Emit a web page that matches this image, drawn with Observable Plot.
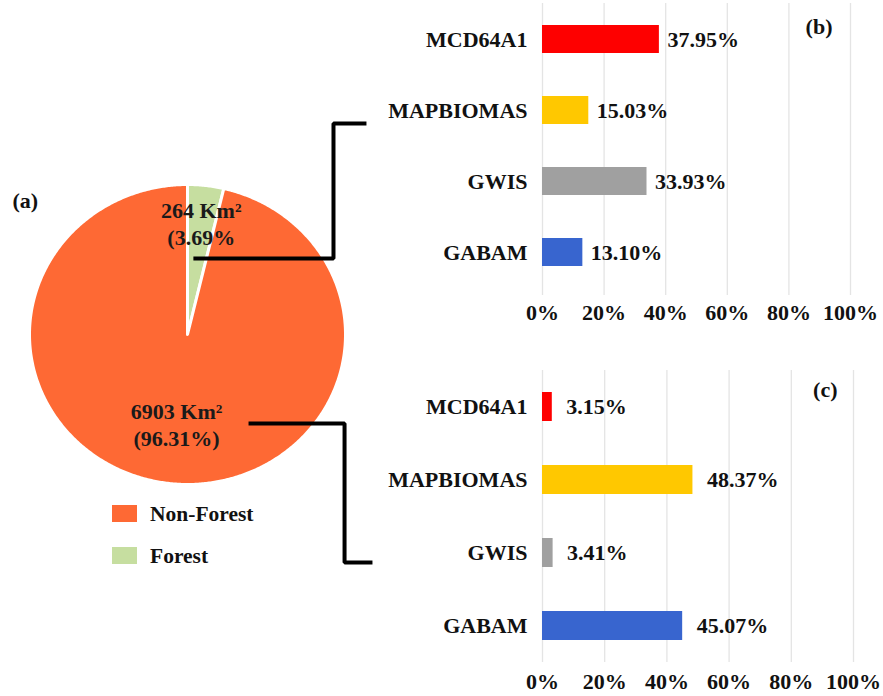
<!DOCTYPE html>
<html>
<head>
<meta charset="utf-8">
<script src="https://cdn.jsdelivr.net/npm/d3@7"></script>
<script src="https://cdn.jsdelivr.net/npm/@observablehq/plot@0.6"></script>
<style>
  html, body { margin: 0; padding: 0; background: #fff; }
  #wrap { position: relative; width: 883px; height: 696px; overflow: hidden; background: #fff;
          font-family: "Liberation Serif", "Times New Roman", serif; font-weight: bold; color: #111; }
  .panel { position: absolute; }
  .panel svg { display: block; overflow: visible; }
  .sw { position: absolute; width: 25px; height: 17px; }
  .lg { position: absolute; font-size: 21.5px; line-height: 22px; white-space: nowrap; }
</style>
</head>
<body>
<div id="wrap"></div>
<script>
// ---------- data ----------
const sliceNames = ["Forest", "Non-Forest"];
const sliceAreas = [264, 6903];            // Km²
const slicePercents = [3.69, 96.31];       // %
const sliceCloseParen = ["", ")"];         // as printed in the original
const legendOrder = ["Non-Forest", "Forest"];

const products = ["MCD64A1", "MAPBIOMAS", "GWIS", "GABAM"];
const forestShare = [37.95, 15.03, 33.93, 13.10];     // panel (b)
const nonForestShare = [3.15, 48.37, 3.41, 45.07];    // panel (c)
const xTicks = [0, 20, 40, 60, 80, 100];

// ---------- styles ----------
const sliceColors = {"Forest": "#c6dea0", "Non-Forest": "#fe6934"};
const productColors = {"MCD64A1": "#fe0000", "MAPBIOMAS": "#ffc800", "GWIS": "#a0a0a0", "GABAM": "#3865cf"};
const FONT = '"Liberation Serif", "Times New Roman", serif';
const FS = 22;

const wrap = document.getElementById("wrap");
function place(node, left, top) {
  const d = document.createElement("div");
  d.className = "panel";
  d.style.left = left + "px";
  d.style.top = top + "px";
  d.appendChild(node);
  wrap.appendChild(d);
  return d;
}

// ---------- pie (a) ----------
const slices = sliceNames.map((n, i) => ({name: n, area: sliceAreas[i], pct: slicePercents[i], close: sliceCloseParen[i]}));
const arcs = d3.pie().sort(null).value(d => d.pct)(slices);
const step = Math.PI / 360;
const sliceShapes = arcs.map(a => {
  const pts = [{x: 0, y: 0}];
  const n = Math.max(2, Math.ceil((a.endAngle - a.startAngle) / step));
  for (let k = 0; k <= n; k++) {
    const t = a.startAngle + (a.endAngle - a.startAngle) * k / n;
    pts.push({x: Math.sin(t), y: Math.cos(t)});
  }
  return {name: a.data.name, pts};
});
const sliceLabels = arcs.map(a => {
  const m = (a.startAngle + a.endAngle) / 2;
  const r = a.data.pct < 10 ? 0.75 : 0.6;
  return {x: r * Math.sin(m), y: r * Math.cos(m),
          text: `${a.data.area} Km²\n(${a.data.pct.toFixed(2)}%${a.data.close}`};
});
// leader lines from the slices to the bar panels (pie units)
const connectors = [
  {id: "forest", x: 0.05, y: 0.507}, {id: "forest", x: 0.924, y: 0.507},
  {id: "forest", x: 0.924, y: 1.407}, {id: "forest", x: 1.12, y: 1.407},
  {id: "nonforest", x: 0.399, y: -0.593}, {id: "nonforest", x: 0.994, y: -0.593},
  {id: "nonforest", x: 0.994, y: -1.52}, {id: "nonforest", x: 1.158, y: -1.52}
];

const piePlot = Plot.plot({
  width: 380, height: 696, margin: 0,
  style: {fontFamily: FONT, fontSize: FS + "px", fontWeight: "bold", color: "#111", background: "transparent", overflow: "visible"},
  x: {domain: [-1, 1], range: [29, 345], axis: null},
  y: {domain: [-1, 1], range: [484, 184], axis: null},
  marks: [
    ...sliceShapes.map(s => Plot.line(s.pts, {x: "x", y: "y", fill: sliceColors[s.name], stroke: "#fff", strokeWidth: 3, curve: "linear-closed"})),
    Plot.text(sliceLabels, {x: "x", y: "y", text: "text", fontSize: FS, fontWeight: "bold", lineHeight: 1.22, fill: "#1a1a1a"}),
    Plot.line(connectors, {x: "x", y: "y", z: "id", stroke: "#000", strokeWidth: 4, strokeLinecap: "square", strokeLinejoin: "miter"}),
    Plot.text(["(a)"], {frameAnchor: "top-left", dx: 12, dy: 192, fontSize: FS, fontWeight: "bold", fill: "#111"})
  ]
});
place(piePlot, 0, 0);

// legend
legendOrder.forEach((name, i) => {
  const top = 505 + i * 42;
  const sw = document.createElement("div");
  sw.className = "sw";
  sw.style.left = "112px"; sw.style.top = top + "px";
  sw.style.background = sliceColors[name];
  wrap.appendChild(sw);
  const lb = document.createElement("div");
  lb.className = "lg";
  lb.style.left = "150px"; lb.style.top = (top - 2) + "px";
  lb.textContent = name;
  wrap.appendChild(lb);
});

// ---------- bar panels (b) and (c) ----------
function barPanel(values, o) {
  const rows = products.map((p, i) => ({product: p, value: values[i], color: productColors[p]}));
  return Plot.plot({
    width: 503, height: o.height,
    marginLeft: 162, marginRight: o.marginRight, marginTop: o.top, marginBottom: o.height - o.bottom,
    style: {fontFamily: FONT, fontSize: FS + "px", fontWeight: "bold", color: "#111", background: "transparent", overflow: "visible"},
    color: {type: "identity"},
    x: {domain: [0, 100], ticks: xTicks, tickFormat: d => d + "%", tickSize: 0, tickPadding: o.xPad, label: null},
    y: {domain: products, range: o.yRange, paddingInner: 0.6, paddingOuter: 0.3, tickSize: 0, tickPadding: 15, label: null},
    marks: [
      Plot.gridX(xTicks, {stroke: "#e4e4e4", strokeOpacity: 1, strokeWidth: 1.3}),
      Plot.barX(rows, {y: "product", x: "value", fill: "color"}),
      Plot.text(rows, {y: "product", x: "value", text: d => d.value.toFixed(2) + "%", textAnchor: "start", dx: o.dx,
                       fontSize: FS, fontWeight: "bold", fill: "#111"}),
      Plot.text([o.tag], {frameAnchor: "top-right", dx: o.tagDx, dy: o.tagDy, fontSize: FS, fontWeight: "bold", fill: "#111"})
    ]
  });
}

place(barPanel(forestShare, {height: 340, top: 3, bottom: 295, yRange: [3, 289], marginRight: 33, xPad: 9, dx: 8,
                             tag: "(b)", tagDx: -18, tagDy: 15}), 380, 0);
place(barPanel(nonForestShare, {height: 336, top: 10, bottom: 302, yRange: [10, 302], marginRight: 30, xPad: 11, dx: 14,
                                tag: "(c)", tagDx: -16, tagDy: 11}), 380, 360);
</script>
</body>
</html>
